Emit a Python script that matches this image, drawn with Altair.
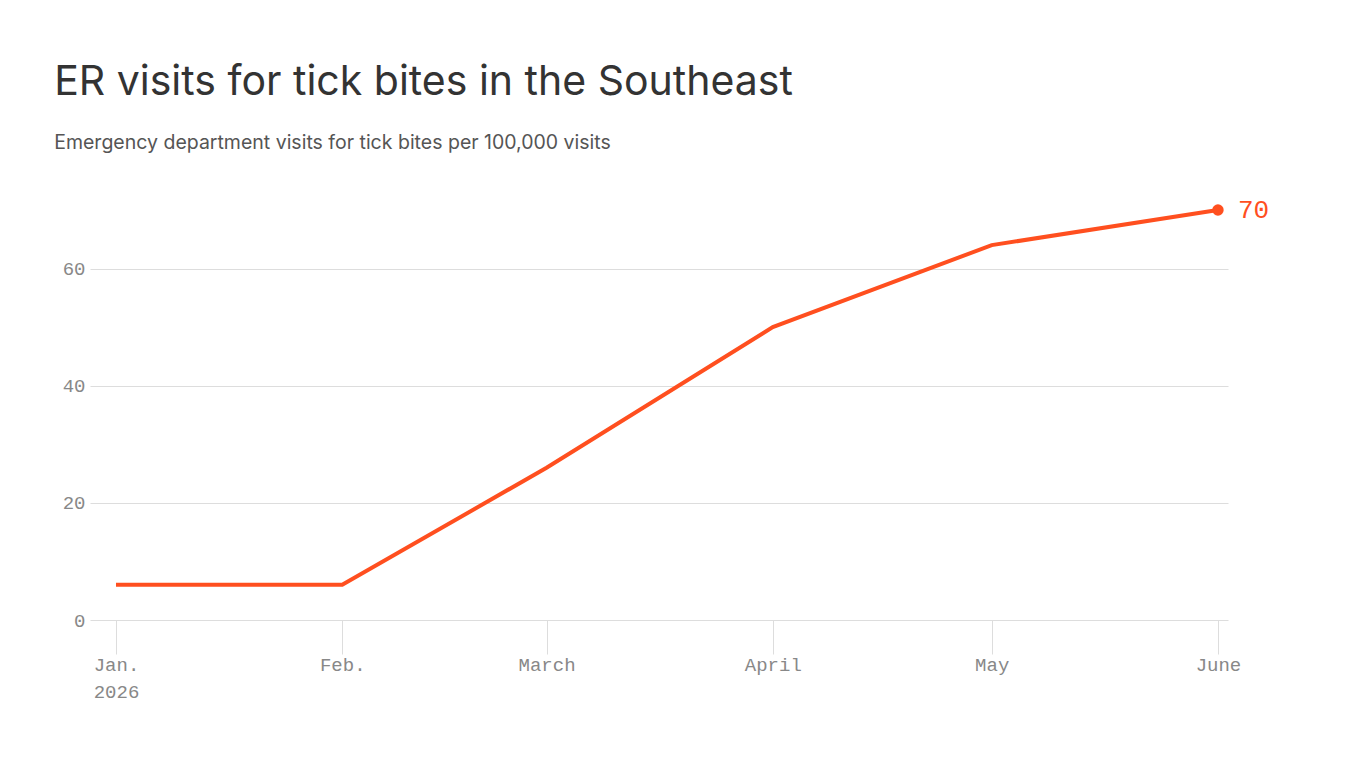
import altair as alt
import pandas as pd

# Monthly ER visits for tick bites (per 100,000 visits), 2026
dates = ["2026-01-01", "2026-02-01", "2026-03-01", "2026-04-01", "2026-05-01", "2026-06-01"]
values = [6, 6, 26, 50, 64, 70]
month_labels = ["Jan.", "Feb.", "March", "April", "May", "June"]
year_label = "2026"
y_ticks = [0, 20, 40, 60]

ORANGE = "#FF4F1F"
MONO = "Liberation Mono"

df = pd.DataFrame({"date": pd.to_datetime(dates), "value": values})
last = df.tail(1)

labels_js = "[" + ",".join(f"'{m}'" for m in month_labels) + "]"
label_expr = (
    f"utcmonth(datum.value) == 0 ? ['{month_labels[0]}', '{year_label}'] "
    f": {labels_js}[utcmonth(datum.value)]"
)

# A little breathing room on both sides of the time axis
x_domain = [
    alt.DateTime(year=2025, month=12, date=28, hours=10, minutes=30, utc=True),
    alt.DateTime(year=2026, month=6, date=2, hours=9, utc=True),
]

x_enc = alt.X(
    "date:T",
    scale=alt.Scale(type="utc", domain=x_domain, nice=False),
    axis=alt.Axis(
        title=None,
        values=[alt.DateTime(year=2026, month=m, date=1, utc=True) for m in range(1, 7)],
        labelExpr=label_expr,
        labelFlush=False,
        labelAlign="center",
        grid=False,
        domain=False,
        ticks=True,
        tickSize=34,
        tickColor="#dddddd",
        tickWidth=1,
        labelFont=MONO,
        labelFontSize=19,
        labelColor="#888888",
        labelPadding=1,
        labelLineHeight=27,
    ),
)
y_enc = alt.Y(
    "value:Q",
    scale=alt.Scale(domain=[0, 70], nice=False),
    axis=alt.Axis(
        title=None,
        values=y_ticks,
        grid=True,
        gridColor="#dddddd",
        gridWidth=1,
        domain=False,
        ticks=False,
        labelFont=MONO,
        labelFontSize=19,
        labelColor="#888888",
        labelPadding=5,
    ),
)

line = alt.Chart(df).mark_line(color=ORANGE, strokeWidth=4).encode(x=x_enc, y=y_enc)
dot = alt.Chart(last).mark_point(
    filled=True, color=ORANGE, size=130, opacity=1
).encode(x="date:T", y="value:Q")
label = alt.Chart(last).mark_text(
    align="left", baseline="middle", dx=20, font=MONO, fontSize=26, color=ORANGE
).encode(x="date:T", y="value:Q", text="value:Q")

chart = (
    alt.layer(line, dot, label)
    .properties(
        width=1138,
        height=410,
        autosize=alt.AutoSizeParams(type="none"),
        padding={"left": 90, "top": 210, "right": 138, "bottom": 148},
        title=alt.TitleParams(
            text="ER visits for tick bites in the Southeast",
            subtitle="Emergency department visits for tick bites per 100,000 visits",
            anchor="start",
            dx=-8,
            offset=44,
            font="Inter",
            fontSize=41,
            fontWeight=400,
            color="#333333",
            subtitleFont="Inter",
            subtitleFontSize=19.5,
            subtitleColor="#555555",
            subtitlePadding=30,
        ),
    )
    .configure(background="white")
    .configure_view(stroke=None, strokeWidth=0)
)

chart.save("out.html", embed_options={"renderer": "svg", "actions": False})
